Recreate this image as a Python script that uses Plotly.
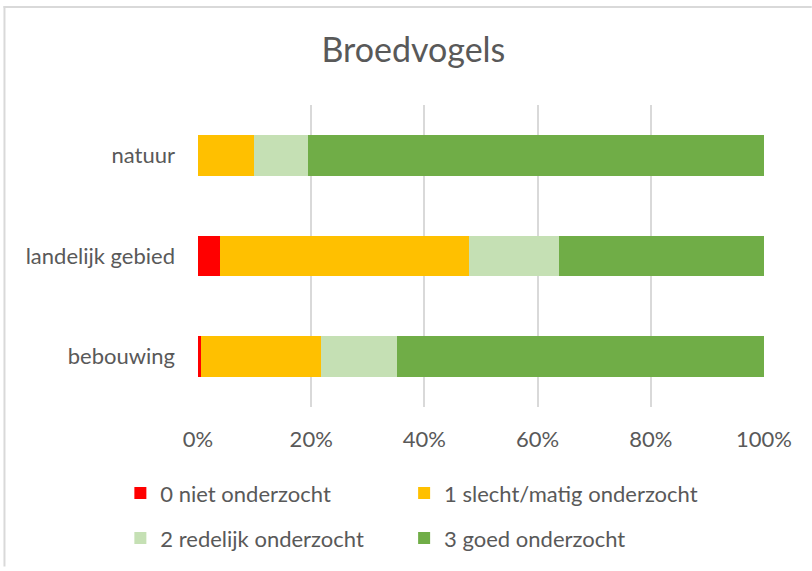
import plotly.graph_objects as go

categories = ["bebouwing", "landelijk gebied", "natuur"]
series_names = ["0 niet onderzocht", "1 slecht/matig onderzocht",
                "2 redelijk onderzocht", "3 goed onderzocht"]
v0 = [0.5, 3.9, 0.0]
v1 = [21.3, 44.0, 9.9]
v2 = [13.3, 15.9, 9.6]
v3 = [64.9, 36.2, 80.5]
series_values = [v0, v1, v2, v3]
colors = ["#FF0000", "#FFC000", "#C5E0B4", "#70AD47"]
x_tickvals = [0, 20, 40, 60, 80, 100]
x_ticktext = ["0%", "20%", "40%", "60%", "80%", "100%"]

W, H = 812, 571
L, R, T, B = 197.7, 764.2, 105, 410
FONT = "Lato"
TXT = "#595959"

def px(xp):
    return (xp - L) / (R - L)

def py(yp):
    return (B - yp) / (B - T)

legend_ids = ["legend", "legend2", "legend3", "legend4"]
# legend item anchor positions (window pixels): symbol-center x, row-center y
legend_pos = [(140, 497), (424, 497), (140, 542.5), (424, 542.5)]

fig = go.Figure()
for name, vals, col, lid in zip(series_names, series_values, colors, legend_ids):
    fig.add_trace(go.Bar(
        y=categories, x=vals, name=name, orientation="h",
        marker=dict(color=col, line=dict(width=0)),
        legend=lid,
        hoverinfo="x+y+name",
    ))

leg_common = dict(orientation="v", xanchor="left", yanchor="middle",
                  font=dict(family=FONT, size=22, color=TXT),
                  bgcolor="rgba(0,0,0,0)", borderwidth=0,
                  traceorder="normal")

legends = {}
for lid, (sx, sy) in zip(legend_ids, legend_pos):
    legends[lid] = dict(leg_common, x=px(sx - 20), y=py(sy))

fig.update_layout(
    width=W, height=H,
    margin=dict(l=L, r=W - R, t=T, b=H - B, pad=0),
    autosize=False,
    paper_bgcolor="white", plot_bgcolor="white",
    barmode="stack", bargap=0.595,
    title=dict(text="Broedvogels", x=413.4 / W, xanchor="center",
               y=1 - 50 / H, yanchor="middle", yref="container", xref="container",
               font=dict(family=FONT, size=34, color=TXT)),
    xaxis=dict(range=[0, 100], tickvals=x_tickvals, ticktext=x_ticktext,
               showgrid=True, gridcolor="#D9D9D9", gridwidth=1.5,
               zeroline=False, showline=False, ticks="",
               tickfont=dict(family=FONT, size=22, color=TXT),
               ticklabelstandoff=17, fixedrange=True),
    yaxis=dict(categoryorder="array", categoryarray=categories,
               range=[-0.5, 2.5], showgrid=False, zeroline=False, showline=False,
               ticks="", tickfont=dict(family=FONT, size=22, color=TXT),
               ticklabelstandoff=22, fixedrange=True),
    showlegend=True,
    shapes=[
        dict(type="line", xref="paper", yref="paper",
             x0=px(3), x1=px(812), y0=py(6), y1=py(6),
             line=dict(color="#D9D9D9", width=2)),
        dict(type="line", xref="paper", yref="paper",
             x0=px(4), x1=px(4), y0=py(5), y1=py(571),
             line=dict(color="#D9D9D9", width=2)),
    ],
    **legends,
)

fig.write_html("out.html", config={"displayModeBar": False},
               post_script="document.body.style.margin='0px';document.body.style.overflow='hidden';")
